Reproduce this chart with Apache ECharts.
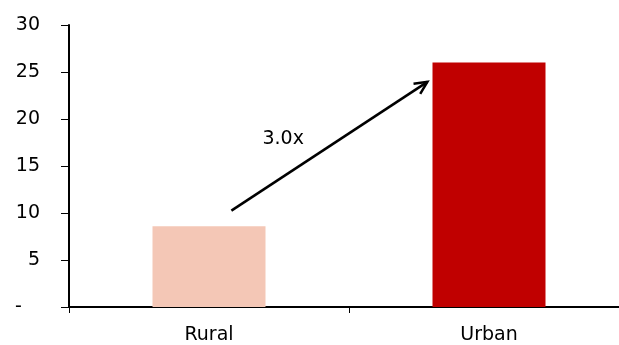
<!DOCTYPE html>
<html>
<head>
<meta charset="utf-8">
<script src="https://cdn.jsdelivr.net/npm/echarts@6/dist/echarts.min.js"></script>
<style>
  html, body { margin: 0; padding: 0; background: #fff; overflow: hidden; }
  #chart { width: 629px; height: 345px; }
</style>
</head>
<body>
<div id="chart"></div>
<script>
var categories = ['Rural', 'Urban'];
var values = [8.6, 26];
var barColors = ['#f4c7b6', '#c00000'];
// arrow from rural to urban, in [x (0..2 across the categories), y] units
var arrowFrom = [0.58, 10.25];
var arrowTo = [1.28, 23.95];
var arrowLabel = '3.0x';
var labelPos = [0.765, 17.9];

// the chart is a bit wider than the window: the x axis runs off the right edge
var chart = echarts.init(document.getElementById('chart'));
var font = 'DejaVu Sans';

var option = {
    animation: false,
    grid: { left: 69, top: 25, right: 0, bottom: 38 },
    xAxis: [{
        type: 'category',
        data: categories,
        axisLine: { lineStyle: { color: '#000', width: 2 } },
        axisTick: { show: true, length: 6, lineStyle: { color: '#000', width: 1 } },
        axisLabel: { color: '#000', fontSize: 19, fontFamily: font, margin: 19 }
    }, {
        type: 'value',
        min: 0,
        max: 2,
        show: false
    }],
    yAxis: {
        type: 'value',
        min: 0,
        max: 30,
        interval: 5,
        splitLine: { show: false },
        axisLine: { show: true, lineStyle: { color: '#000', width: 2 } },
        axisTick: { show: true, length: 8, lineStyle: { color: '#000', width: 1 } },
        axisLabel: {
            color: '#000', fontSize: 19, fontFamily: font, margin: 29,
            formatter: function (v) { return v === 0 ? '-   ' : v; }
        }
    },
    series: [{
        type: 'bar',
        barWidth: 113,
        data: values.map(function (v, i) {
            return { value: v, itemStyle: { color: barColors[i] } };
        })
    }, {
        type: 'custom',
        xAxisIndex: 1,
        data: [[arrowFrom[0], arrowFrom[1], arrowTo[0], arrowTo[1]]],
        renderItem: function (params, api) {
            var p0 = api.coord([api.value(0), api.value(1)]);
            var p1 = api.coord([api.value(2), api.value(3)]);
            var lp = api.coord(labelPos);
            var ang = Math.atan2(p1[1] - p0[1], p1[0] - p0[0]);
            var L = 14, a = 0.45;
            var h1 = [p1[0] - L * Math.cos(ang - a), p1[1] - L * Math.sin(ang - a)];
            var h2 = [p1[0] - L * Math.cos(ang + a), p1[1] - L * Math.sin(ang + a)];
            var st = { stroke: '#000', lineWidth: 2.5, fill: null };
            return {
                type: 'group',
                children: [
                    { type: 'line', shape: { x1: p0[0], y1: p0[1], x2: p1[0], y2: p1[1] }, style: st },
                    { type: 'polyline', shape: { points: [h1, p1, h2] }, style: st },
                    { type: 'text', x: lp[0], y: lp[1], style: {
                        text: arrowLabel, fill: '#000', font: '19px ' + font,
                        align: 'center', verticalAlign: 'middle'
                    } }
                ]
            };
        }
    }]
};
chart.setOption(option);
</script>
</body>
</html>
